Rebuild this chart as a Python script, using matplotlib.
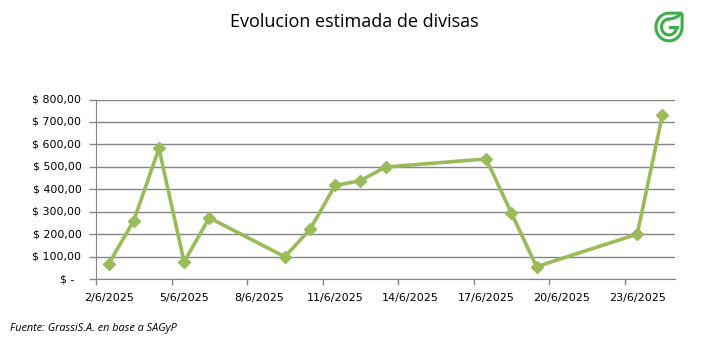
import numpy as np
import pandas as pd
import matplotlib
matplotlib.use("Agg")
import matplotlib.pyplot as plt
import matplotlib.dates as mdates
import matplotlib.transforms as mtransforms
from matplotlib.path import Path
from matplotlib.patches import PathPatch, Arc

# data
dates = ["2025-06-02", "2025-06-03", "2025-06-04", "2025-06-05", "2025-06-06",
         "2025-06-09", "2025-06-10", "2025-06-11", "2025-06-12", "2025-06-13",
         "2025-06-17", "2025-06-18", "2025-06-19", "2025-06-23", "2025-06-24"]
values = [67, 260, 582, 76, 273, 99, 221, 417, 438, 499, 535, 294, 55, 200, 731]

tick_dates = ["2025-06-02", "2025-06-05", "2025-06-08", "2025-06-11",
              "2025-06-14", "2025-06-17", "2025-06-20", "2025-06-23"]
tick_labels = ["2/6/2025", "5/6/2025", "8/6/2025", "11/6/2025",
               "14/6/2025", "17/6/2025", "20/6/2025", "23/6/2025"]
y_ticks = [0, 100, 200, 300, 400, 500, 600, 700, 800]
y_labels = ["$ -", "$ 100,00", "$ 200,00", "$ 300,00", "$ 400,00", "$ 500,00",
            "$ 600,00", "$ 700,00", "$ 800,00"]

title = "Evolucion estimada de divisas"
source = "Fuente: GrassiS.A. en base a SAGyP"

green = "#9BBB59"
grid_c = "#868686"
W, H = 711, 358

fig = plt.figure(figsize=(W / 100, H / 100), dpi=100)
ax = fig.add_axes([96 / W, 1 - 279 / H, (675 - 96) / W, (279 - 99.5) / H])

x = mdates.date2num(pd.to_datetime(dates))
xt = mdates.date2num(pd.to_datetime(tick_dates))
half = 0.5

ax.plot(x, values, color=green, lw=2.6, marker="D", ms=6.5,
        markeredgecolor=green, solid_joinstyle="miter", zorder=3)

ax.set_xlim(x[0] - half, x[-1] + half)
ax.set_ylim(0, 800)

# boundaries between days carry the tick marks, labels sit on the day
ax.set_xticks(xt - half)
ax.set_xticklabels([])
ax.set_xticks(xt, minor=True)
ax.set_xticklabels(tick_labels, minor=True, fontsize=8, family="DejaVu Sans")
ax.tick_params(axis="x", which="major", length=4, width=1, color=grid_c,
               direction="out")
ax.tick_params(axis="x", which="minor", length=0, pad=10)

ax.set_yticks(y_ticks)
ax.set_yticklabels([])
ax.tick_params(axis="y", length=5, width=1, color=grid_c, direction="out")
ax.yaxis.grid(True, color=grid_c, lw=1)
ax.set_axisbelow(True)

# accounting style: the dash for zero sits a bit further left
trans = mtransforms.blended_transform_factory(fig.transFigure, ax.transData)
for v, lab in zip(y_ticks, y_labels):
    xr = 74 if v == 0 else 81.5
    ax.text(xr / W, v, lab, transform=trans, ha="right", va="center",
            fontsize=7.9, family="DejaVu Sans")

for s in ["top", "right"]:
    ax.spines[s].set_visible(False)
ax.spines["left"].set_color(grid_c)
ax.spines["bottom"].set_color(grid_c)

fig.text(354 / W, 1 - 22 / H, title, ha="center", va="center",
         fontsize=13, family="Open Sans")
fig.text(10 / W, 1 - 328 / H, source, ha="left", va="center",
         fontsize=7.8, family="Open Sans", style="italic")

# logo: leaf with a G
lg = fig.add_axes([652 / W, 1 - 45 / H, 34 / W, 36 / H])
lg.set_xlim(-1.3, 1.3)
lg.set_ylim(-1.3, 1.3)
lg.axis("off")
logo_c = "#3DAE49"
t = np.linspace(np.pi / 2, 2 * np.pi, 60)
pts = [(1, 1), (0, 1)] + list(zip(np.cos(t), np.sin(t))) + [(1, 1)]
lg.add_patch(PathPatch(Path(pts), fill=False, ec=logo_c, lw=2.2,
                       joinstyle="miter"))
lg.add_patch(Arc((0, 0), 1.15, 1.15, theta1=90, theta2=360, ec=logo_c, lw=2.2))
lg.plot([0.575, 0.1], [0, 0], color=logo_c, lw=2.2)
lg.plot([0.0, 0.3, 0.6, 0.8], [0.575, 0.62, 0.72, 0.88], color=logo_c, lw=2.2)

fig.savefig("out.png", dpi=100)
